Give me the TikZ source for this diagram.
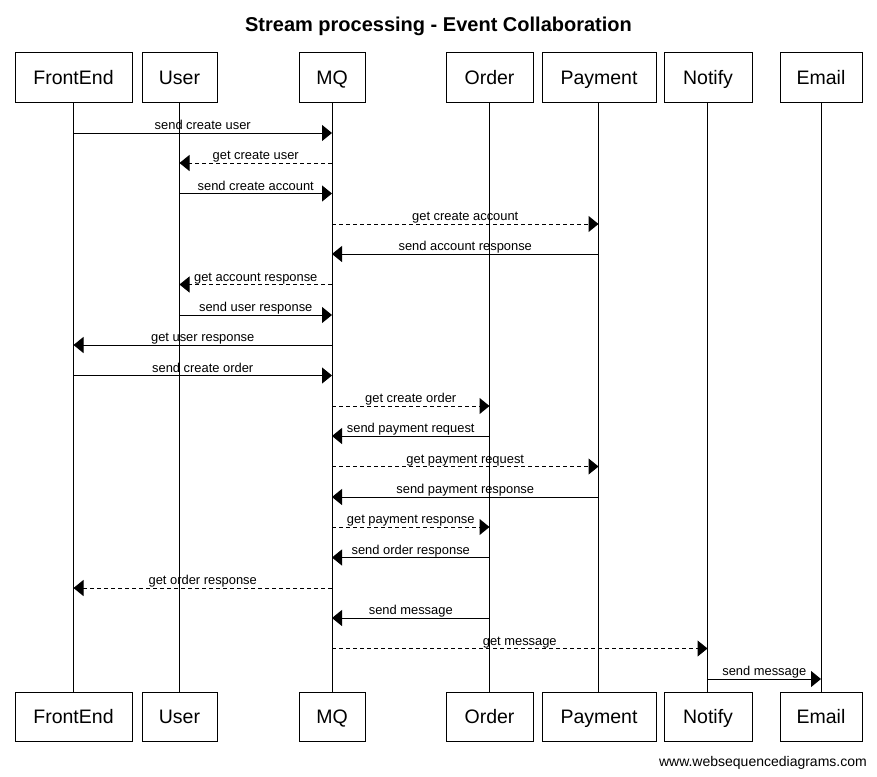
\documentclass[tikz,border=0pt]{standalone}
\usepackage{fontspec}
\setmainfont{Liberation Sans}
\usetikzlibrary{arrows.meta}
\begin{document}
\begin{tikzpicture}[x=1pt,y=-1pt,
  pbox/.style={draw, line width=1pt, inner sep=0pt, minimum height=49.5pt,
    text height=14.2pt, text depth=0pt, font=\fontsize{19.5}{22}\selectfont},
  life/.style={line width=1pt},
  msg/.style={line width=1pt, -{Triangle[length=10pt,width=16pt]}},
  rep/.style={msg, dash pattern=on 4pt off 3pt},
  lbl/.style={midway, anchor=base, yshift=3.5pt, inner sep=0pt, font=\fontsize{12.9}{15}\selectfont}]
\useasboundingbox[fill=white] (0,0) rectangle (877,776);
\node[font=\bfseries\fontsize{20}{24}\selectfont, anchor=base, inner sep=0pt] (title) at (438.5,31.5) {Stream processing - Event Collaboration};
% participants
\foreach \n/\t/\x/\w in {FE/FrontEnd/73.5/117, US/User/179.5/75, MQ/MQ/332/66, OR/Order/489.5/87, PA/Payment/599/114, NO/Notify/708/88, EM/Email/821/82}{
  \node[pbox, minimum width=\w pt] (\n t) at (\x,77.25) {\t};
  \node[pbox, minimum width=\w pt] (\n b) at (\x,716.75) {\t};
}
\coordinate (FEl) at (73.5,0);
\coordinate (USl) at (179.5,0);
\coordinate (MQl) at (332,0);
\coordinate (ORl) at (489.5,0);
\coordinate (PAl) at (598.5,0);
\coordinate (NOl) at (707.5,0);
\coordinate (EMl) at (821,0);
\foreach \n in {FE,US,MQ,OR,PA,NO,EM}{
  \draw[life] (\n l |- \n t.south) -- (\n l |- \n b.north);
}
% message rows
\foreach \i/\y in {1/133,2/163,3/193.5,4/224,5/254,6/284.5,7/315,8/345,9/375.5,10/406,11/436,12/466.5,13/497,14/527,15/557.5,16/588,17/618,18/648.5,19/679}{
  \coordinate (m\i) at (0,\y);
}
\draw[msg] (FEl |- m1) -- (MQl |- m1) node[lbl] {send create user};
\draw[rep] (MQl |- m2) -- (USl |- m2) node[lbl] {get create user};
\draw[msg] (USl |- m3) -- (MQl |- m3) node[lbl] {send create account};
\draw[rep] (MQl |- m4) -- (PAl |- m4) node[lbl] {get create account};
\draw[msg] (PAl |- m5) -- (MQl |- m5) node[lbl] {send account response};
\draw[rep] (MQl |- m6) -- (USl |- m6) node[lbl] {get account response};
\draw[msg] (USl |- m7) -- (MQl |- m7) node[lbl] {send user response};
\draw[msg] (MQl |- m8) -- (FEl |- m8) node[lbl] {get user response};
\draw[msg] (FEl |- m9) -- (MQl |- m9) node[lbl] {send create order};
\draw[rep] (MQl |- m10) -- (ORl |- m10) node[lbl] {get create order};
\draw[msg] (ORl |- m11) -- (MQl |- m11) node[lbl] {send payment request};
\draw[rep] (MQl |- m12) -- (PAl |- m12) node[lbl] {get payment request};
\draw[msg] (PAl |- m13) -- (MQl |- m13) node[lbl] {send payment response};
\draw[rep] (MQl |- m14) -- (ORl |- m14) node[lbl] {get payment response};
\draw[msg] (ORl |- m15) -- (MQl |- m15) node[lbl] {send order response};
\draw[rep] (MQl |- m16) -- (FEl |- m16) node[lbl] {get order response};
\draw[msg] (ORl |- m17) -- (MQl |- m17) node[lbl] {send message};
\draw[rep] (MQl |- m18) -- (NOl |- m18) node[lbl] {get message};
\draw[msg] (NOl |- m19) -- (EMl |- m19) node[lbl] {send message};
\node[anchor=base east, inner sep=0pt, font=\fontsize{14}{17}\selectfont] (footer) at (867,766) {www.websequencediagrams.com};
\end{tikzpicture}
\end{document}
